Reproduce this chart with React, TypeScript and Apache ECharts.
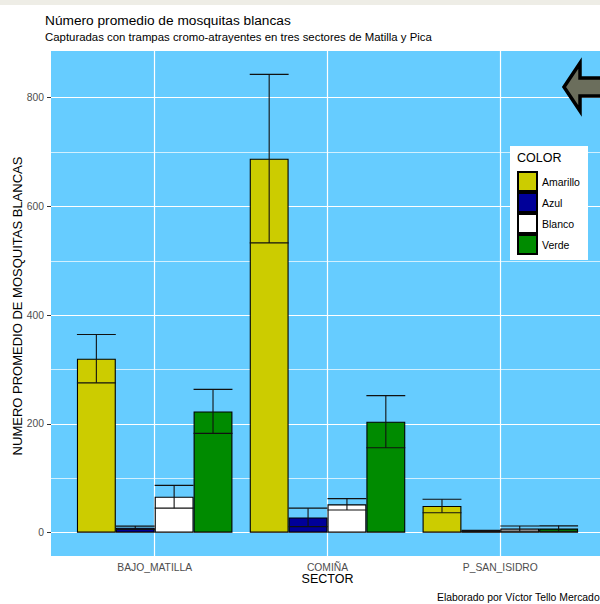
import React, { useEffect, useRef } from "react";
import * as echarts from "echarts";

const categories = ["BAJO_MATILLA", "COMIÑA", "P_SAN_ISIDRO"];
const colorNames = ["Amarillo", "Azul", "Blanco", "Verde"];
const amarilloMean = [320, 688, 49];
const amarilloErr = [44.5, 155, 12.5];
const azulMean = [9, 28, 3];
const azulErr = [3, 17, 1.2];
const blancoMean = [66, 52, 7.5];
const blancoErr = [21, 10.5, 4.8];
const verdeMean = [223, 204, 7.5];
const verdeErr = [40.5, 48, 5];
const yTickValues = [0, 200, 400, 600, 800];
const yMinorValues = [100, 300, 500, 700];
const xPositions = [1, 2, 3];

const means = [amarilloMean, azulMean, blancoMean, verdeMean];
const errs = [amarilloErr, azulErr, blancoErr, verdeErr];
const fills = ["#cccc00", "#000099", "#ffffff", "#008b00"];

const FONT = "Liberation Sans, Arial, Helvetica, sans-serif";

export default function App() {
  const ref = useRef<HTMLDivElement>(null);
  useEffect(() => {
    if (!ref.current) return;
    const chart = echarts.init(ref.current, undefined, { renderer: "svg" });

    const barSeries = colorNames.map((name, i) => ({
      name,
      type: "bar",
      data: means[i].map((v, c) => [xPositions[c], v]),
      barGap: "0%",
      barCategoryGap: "10%",
      itemStyle: { color: fills[i], borderColor: "#000", borderWidth: 1.1 },
      z: 2,
    }));

    const errData: number[][] = [];
    colorNames.forEach((_, s) => {
      categories.forEach((_, c) => {
        errData.push([xPositions[c], means[s][c] - errs[s][c], means[s][c] + errs[s][c], s]);
      });
    });

    const errSeries = {
      type: "custom",
      name: "err",
      z: 3,
      silent: true,
      data: errData,
      encode: { x: 0, y: [1, 2] },
      markLine: {
        z: 1,
        silent: true,
        symbol: "none",
        label: { show: false },
        animation: false,
        data: [
          ...yTickValues.map((v) => ({ yAxis: v, lineStyle: { color: "#ffffff", width: 1.2, type: "solid" } })),
          ...yMinorValues.map((v) => ({ yAxis: v, lineStyle: { color: "#ffffff", width: 0.7, type: "solid" } })),
          ...xPositions.map((v) => ({ xAxis: v, lineStyle: { color: "#ffffff", width: 1.2, type: "solid" } })),
        ],
      },
      renderItem: (params: any, api: any) => {
        const xv = api.value(0);
        const lo = api.value(1);
        const hi = api.value(2);
        const s = api.value(3);
        const band = api.size([1, 0])[0];
        const barW = (band * 0.9) / 4;
        const cx = api.coord([xv, 0])[0] - 0.45 * band + barW * (s + 0.5);
        const yLo = api.coord([xv, lo])[1];
        const yHi = api.coord([xv, hi])[1];
        const h = barW / 2;
        const st = { stroke: "#111", lineWidth: 1.1 };
        return {
          type: "group",
          children: [
            { type: "line", shape: { x1: cx - h, y1: yHi, x2: cx + h, y2: yHi }, style: st },
            { type: "line", shape: { x1: cx, y1: yHi, x2: cx, y2: yLo }, style: st },
            { type: "line", shape: { x1: cx - h, y1: yLo, x2: cx + h, y2: yLo }, style: st },
          ],
        };
      },
    };

    chart.setOption({
      animation: false,
      backgroundColor: "#ffffff",
      textStyle: { fontFamily: FONT },
      grid: {
        left: 51,
        top: 51,
        width: 553,
        height: 505,
        show: true,
        backgroundColor: "#66ccff",
        borderWidth: 0,
      },
      legend: {
        data: colorNames,
        orient: "vertical",
        left: 510,
        top: 146,
        padding: [25, 7, 7, 7],
        itemWidth: 19,
        itemHeight: 19,
        itemGap: 0,
        icon: "rect",
        backgroundColor: "transparent",
        borderWidth: 0,
        z: 50,
        selectedMode: false,
        textStyle: { fontFamily: FONT, fontSize: 10.5, color: "#000" },
      },
      xAxis: {
        type: "value",
        min: 0.4,
        max: 3.6,
        axisLine: { show: false },
        axisTick: { show: true, length: 4, customValues: xPositions, lineStyle: { color: "#333", width: 1 } },
        axisLabel: {
          color: "#4d4d4d",
          fontSize: 10.3,
          margin: 6,
          fontFamily: FONT,
          customValues: xPositions,
          formatter: (v: number) => categories[xPositions.indexOf(Math.round(v))] ?? "",
        },
        splitLine: { show: false },
      },
      yAxis: {
        type: "value",
        min: -43,
        max: 886,
        axisLine: { show: false },
        axisTick: { show: true, length: 4, customValues: yTickValues, lineStyle: { color: "#333", width: 1 } },
        axisLabel: { color: "#4d4d4d", fontSize: 10.3, margin: 7, customValues: yTickValues, fontFamily: FONT },
        splitLine: { show: false },
      },
      graphic: [
        { type: "rect", z: -10, shape: { x: 0, y: 0, width: 610, height: 5 }, style: { fill: "#eeede6" } },
        { type: "rect", z: 40, shape: { x: 510, y: 146, width: 78, height: 114 }, style: { fill: "#ffffff" } },
        {
          type: "text",
          z: 100,
          x: 45,
          y: 20,
          style: { text: "Número promedio de mosquitas blancas", fontSize: 13.7, fill: "#000", fontFamily: FONT, textVerticalAlign: "middle" },
        },
        {
          type: "text",
          z: 100,
          x: 45,
          y: 36.5,
          style: {
            text: "Capturadas con trampas cromo-atrayentes en tres sectores de Matilla y Pica",
            fontSize: 11.4,
            fill: "#000",
            fontFamily: FONT,
            textVerticalAlign: "middle",
          },
        },
        {
          type: "text",
          z: 100,
          x: 327.5,
          y: 579,
          style: { text: "SECTOR", fontSize: 12.5, fill: "#000", fontFamily: FONT, textAlign: "center", textVerticalAlign: "middle" },
        },
        {
          type: "text",
          z: 100,
          x: 17,
          y: 306,
          rotation: Math.PI / 2,
          style: {
            text: "NUMERO PROMEDIO DE MOSQUITAS BLANCAS",
            fontSize: 13,
            fill: "#000",
            fontFamily: FONT,
            textAlign: "center",
            textVerticalAlign: "middle",
          },
        },
        {
          type: "text",
          z: 100,
          x: 517,
          y: 158,
          style: { text: "COLOR", fontSize: 12.5, fill: "#000", fontFamily: FONT, textVerticalAlign: "middle" },
        },
        {
          type: "text",
          z: 100,
          x: 437,
          y: 597,
          style: { text: "Elaborado por Víctor Tello Mercado", fontSize: 10.4, fill: "#000", fontFamily: FONT, textVerticalAlign: "middle" },
        },
        {
          type: "polygon",
          z: 100,
          shape: {
            points: [
              [564, 87],
              [580, 63],
              [580, 78],
              [606, 78],
              [606, 96],
              [580, 96],
              [580, 111],
            ],
          },
          style: { fill: "#6b6e5c", stroke: "#000", lineWidth: 3.5, lineJoin: "miter" },
        },
      ],
      series: [...barSeries, errSeries],
    });

    return () => chart.dispose();
  }, []);

  return (
    <div style={{ position: "fixed", left: 0, top: 0, width: 600, height: 604, overflow: "hidden", background: "#fff" }}>
      <div ref={ref} style={{ width: 610, height: 604 }} />
    </div>
  );
}
